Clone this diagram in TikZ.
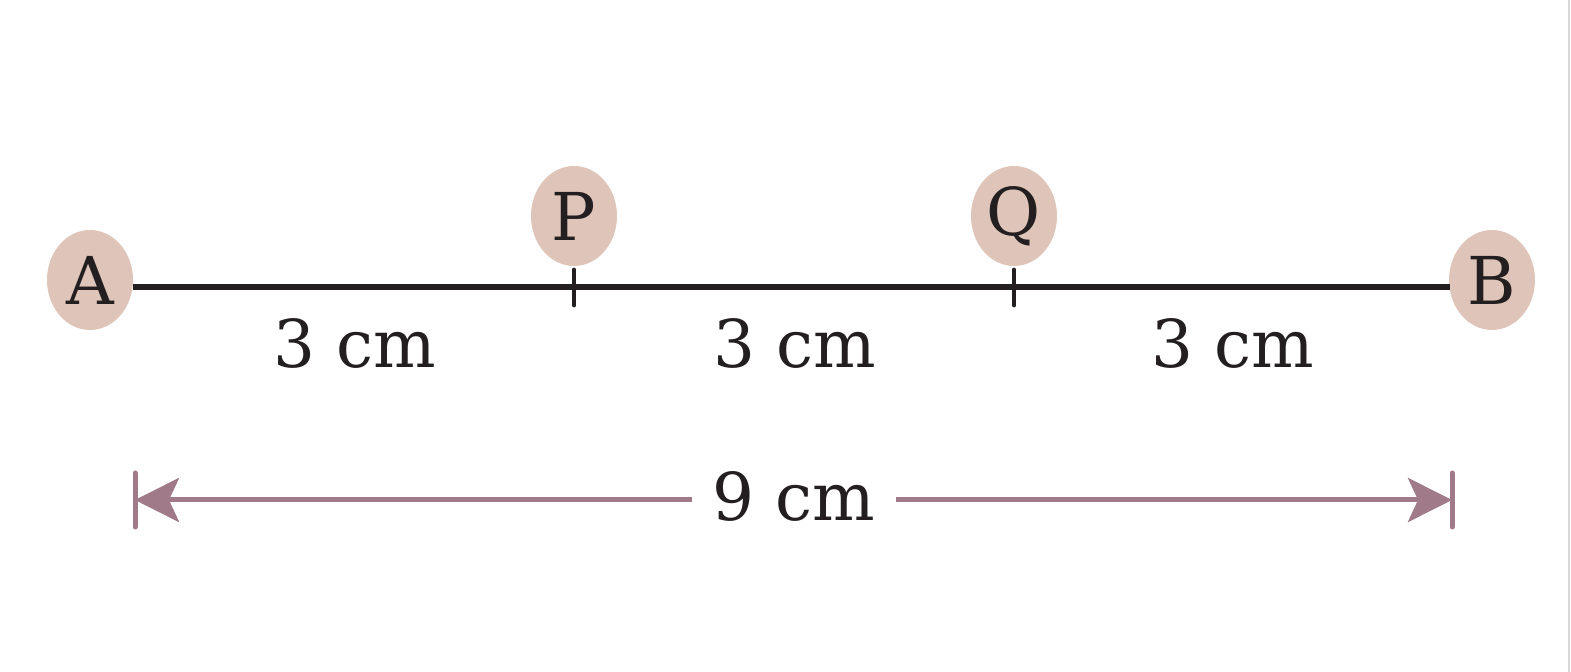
\documentclass[tikz,border=0pt]{standalone}
\usepackage{fontspec}
\setmainfont{DejaVu Serif}
\usetikzlibrary{arrows.meta,shapes.geometric}
\definecolor{dotfill}{HTML}{DFC4B9}
\definecolor{dimcol}{HTML}{A07A88}
\definecolor{ink}{HTML}{231F20}
\begin{document}
\begin{tikzpicture}[x=0.5pt,y=-0.5pt,
  pt/.style={ellipse, fill=dotfill, minimum width=43pt, minimum height=50pt, inner sep=0pt, text=ink, font=\fontsize{33}{36}\selectfont},
  lbl/.style={text=ink, font=\fontsize{33}{36}\selectfont, inner sep=0pt},
  seg/.style={draw=ink, line width=2.6pt},
  tick/.style={draw=ink, line width=2.4pt, line cap=round},
  dim/.style={draw=dimcol, line width=2.5pt},
  bar/.style={draw=dimcol, line width=2.5pt, line cap=round}]
\useasboundingbox (0,0) rectangle (1571,672);
\fill[white] (0,0) rectangle (1571,672);
\draw[black!15, line width=0.8pt] (1569,0) -- (1569,672);
% points
\node[pt] (A) at (90,280) {A};
\node[pt] (P) at (574,216) {P};
\node[pt] (Q) at (1014,216) {Q};
\node[pt] (B) at (1492,280) {B};
% main segment
\coordinate (s0) at (133,287);
\coordinate (s1) at (1450,287);
\coordinate (p0) at (574,270);
\coordinate (p1) at (574,305);
\coordinate (q0) at (1014,270);
\coordinate (q1) at (1014,305);
\draw[seg] (s0) -- (s1);
\draw[tick] (p0) -- (p1);
\draw[tick] (q0) -- (q1);
% segment labels
\node[lbl] (l1) at (355,343) {3 cm};
\node[lbl] (l2) at (795,343) {3 cm};
\node[lbl] (l3) at (1233,343) {3 cm};
% dimension
\coordinate (d0) at (135,500);
\coordinate (d1) at (1452,500);
\coordinate (e0a) at (135,473);
\coordinate (e0b) at (135,527);
\coordinate (e1a) at (1452,473);
\coordinate (e1b) at (1452,527);
\node[lbl, inner xsep=10pt] (tot) at (794,496) {9 cm};
\draw[bar] (e0a) -- (e0b);
\draw[bar] (e1a) -- (e1b);
\draw[dim, -{Stealth[length=22pt, width=22pt, inset=5pt]}] (tot.west |- d0) -- (d0);
\draw[dim, -{Stealth[length=22pt, width=22pt, inset=5pt]}] (tot.east |- d1) -- (d1);
\end{tikzpicture}
\end{document}
